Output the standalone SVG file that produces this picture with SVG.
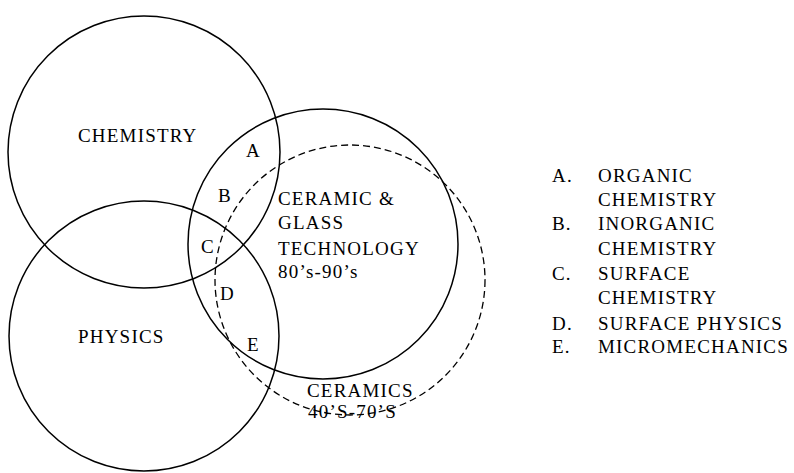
<svg xmlns="http://www.w3.org/2000/svg" width="794" height="473" viewBox="0 0 794 473">
<style>
.c{fill:none;stroke:#000;stroke-width:1.5}
.d{fill:none;stroke:#000;stroke-width:1.3;stroke-dasharray:7 4}
text{font-family:"Liberation Serif","Times New Roman",serif;font-size:19px;letter-spacing:1.2px;fill:#000}
</style>
<rect width="794" height="473" fill="#fff"/>
<g id="connectors"></g>
<g id="chemistry"><circle class="c" cx="144" cy="152" r="136"/><text x="78" y="142">CHEMISTRY</text></g>
<g id="physics"><circle class="c" cx="144" cy="336" r="135"/><text x="78" y="343">PHYSICS</text></g>
<g id="ceramic-glass"><circle class="c" cx="323" cy="244" r="135"/>
<text x="278" y="205">CERAMIC &amp;</text><text x="278" y="229">GLASS</text><text x="278" y="255">TECHNOLOGY</text><text x="278" y="278">80’s-90’s</text></g>
<g id="ceramics"><circle class="d" cx="350" cy="280" r="135"/>
<text x="307" y="397">CERAMICS</text><text x="308" y="418">40’S-70’S</text></g>
<g id="regions">
<text x="246" y="157">A</text><text x="218" y="202">B</text><text x="201" y="253">C</text><text x="220" y="300">D</text><text x="247" y="351">E</text>
</g>
<g id="legend">
<text x="552" y="182">A.</text><text x="598" y="182">ORGANIC</text>
<text x="598" y="206">CHEMISTRY</text>
<text x="552" y="230">B.</text><text x="598" y="230">INORGANIC</text>
<text x="598" y="255">CHEMISTRY</text>
<text x="552" y="280">C.</text><text x="598" y="280">SURFACE</text>
<text x="598" y="304">CHEMISTRY</text>
<text x="552" y="330">D.</text><text x="598" y="330">SURFACE PHYSICS</text>
<text x="552" y="353">E.</text><text x="598" y="353">MICROMECHANICS</text>
</g>
</svg>
